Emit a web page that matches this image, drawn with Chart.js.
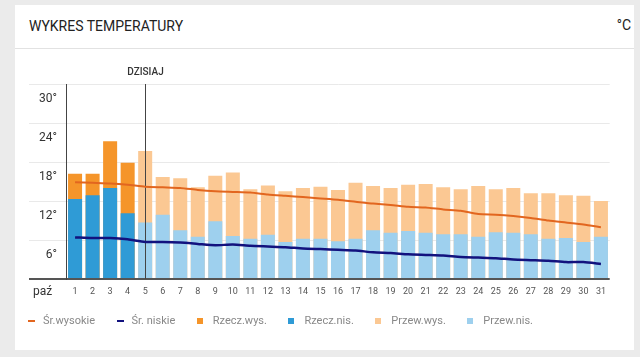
<!DOCTYPE html>
<html><head><meta charset="utf-8">
<script src="https://cdn.jsdelivr.net/npm/chart.js@4.4.1/dist/chart.umd.min.js"></script>
<style>
html,body{margin:0;padding:0;width:640px;height:357px;background:#ebebeb;overflow:hidden;font-family:Roboto,"Noto Sans",sans-serif;}
#card{position:absolute;left:15px;top:5px;width:619px;height:345px;background:#fff;}
#head{position:absolute;left:0;top:0;width:619px;height:43px;border-bottom:1px solid #e2e2e2;}
#title{position:absolute;left:14px;top:13px;font-size:14px;line-height:16px;color:#222;white-space:nowrap;}
#unit{position:absolute;right:3px;top:12px;font-size:14px;line-height:16px;color:#222;}
#chartbox{position:absolute;left:0;top:0;width:640px;height:357px;}
#paz{position:absolute;left:33px;top:283px;font-size:12px;line-height:16px;color:#333;}
#legend{position:absolute;left:28px;top:314px;height:14px;display:flex;align-items:center;font-size:11px;line-height:14px;color:#888;white-space:nowrap;}
#legend .item{display:flex;align-items:center;margin-right:21.5px;}
#legend .mline{display:inline-block;width:7px;height:2px;margin-right:8px;}
#legend .mbox{display:inline-block;width:6px;height:6px;margin-right:10px;}
</style>
</head>
<body>
<div id="card"><div id="head"><div id="title">WYKRES TEMPERATURY</div><div id="unit">°C</div></div></div>
<div id="chartbox"><canvas id="c" width="640" height="357"></canvas></div>
<div id="paz">paź</div>
<div id="legend"></div>
<script>
const days = ['1','2','3','4','5','6','7','8','9','10','11','12','13','14','15','16','17','18','19','20','21','22','23','24','25','26','27','28','29','30','31'];
const monthLabel = 'paź';
const todayIndex = 4;
const todayLabel = 'DZISIAJ';
const yTicksMax = 30;
const yTickStep = 6;

// Actual (days 1-4)
const actualHigh = [16.2, 16.2, 21.2, 17.9];
const actualLow  = [12.3, 12.9, 14.0, 10.1];
// Forecast (days 5-31)
const forecastHigh = [19.7, 15.7, 15.5, 14.1, 15.9, 16.4, 13.8, 14.4, 13.5, 14.0, 14.2, 13.7, 14.8, 14.3, 14.0, 14.5, 14.6, 14.1, 13.8, 14.3, 13.8, 14.0, 13.2, 13.2, 12.9, 12.8, 12.0];
const forecastLow  = [8.7, 9.9, 7.5, 6.5, 8.9, 6.6, 6.2, 6.8, 5.7, 6.2, 6.2, 5.8, 6.2, 7.5, 7.1, 7.4, 7.1, 6.9, 6.9, 6.5, 7.2, 7.1, 6.9, 6.2, 6.3, 5.7, 6.5];
// Averages
const avgHigh = [14.9, 14.8, 14.7, 14.5, 14.2, 14.1, 14.0, 13.7, 13.5, 13.4, 13.3, 13.0, 12.8, 12.6, 12.4, 12.2, 11.9, 11.6, 11.4, 11.1, 11.0, 10.7, 10.5, 10.0, 9.9, 9.7, 9.4, 9.0, 8.7, 8.4, 7.95];
const avgLow  = [6.4, 6.3, 6.3, 6.1, 5.7, 5.7, 5.6, 5.4, 5.2, 5.3, 5.1, 5.0, 4.9, 4.7, 4.6, 4.5, 4.4, 4.1, 4.0, 3.8, 3.7, 3.6, 3.4, 3.3, 3.2, 3.0, 2.9, 2.8, 2.6, 2.6, 2.3];

const seriesNames = ['Śr.wysokie', 'Śr. niskie', 'Rzecz.wys.', 'Rzecz.nis.', 'Przew.wys.', 'Przew.nis.'];

const padActual = arr => days.map((d, i) => i < arr.length ? arr[i] : null);
const padForecast = arr => days.map((d, i) => i >= days.length - arr.length ? arr[i - (days.length - arr.length)] : null);

document.getElementById('paz').textContent = monthLabel;

const todayPlugin = {
  id: 'today',
  beforeDatasetsDraw(chart) { chart.$todayDone = false; },
  beforeDatasetDraw(chart, args) {
    if (chart.$todayDone) return;
    if (args.meta.type !== 'line') return;
    drawToday(chart);
  },
  afterDatasetsDraw(chart) { if (!chart.$todayDone) drawToday(chart); }
};
function drawToday(chart) {
  chart.$todayDone = true;
  const ctx = chart.ctx, a = chart.chartArea;
  const x = Math.round(chart.scales.x.getPixelForValue(todayIndex)) + 0.5;
  ctx.save();
  ctx.strokeStyle = '#444';
  ctx.lineWidth = 1;
  ctx.beginPath();
  ctx.moveTo(x, a.top);
  ctx.lineTo(x, a.bottom);
  ctx.stroke();
  ctx.fillStyle = '#333';
  ctx.font = '500 10px Roboto';
  ctx.textAlign = 'center';
  ctx.textBaseline = 'middle';
  ctx.fillText(todayLabel, x, a.top - 12);
  ctx.restore();
}

const chart = new Chart(document.getElementById('c'), {
  data: {
    labels: days,
    datasets: [
      { type: 'line', label: seriesNames[0], data: avgHigh, borderColor: '#e2661f', backgroundColor: '#e2661f', borderWidth: 2, pointRadius: 0, tension: 0.2, order: 0 },
      { type: 'line', label: seriesNames[1], data: avgLow, borderColor: '#12127e', backgroundColor: '#12127e', borderWidth: 2.5, pointRadius: 0, tension: 0.2, order: 0 },
      { type: 'bar', label: seriesNames[2], data: padActual(actualHigh), backgroundColor: '#f5952a', order: 2 },
      { type: 'bar', label: seriesNames[3], data: padActual(actualLow), backgroundColor: '#2f9bd6', order: 1 },
      { type: 'bar', label: seriesNames[4], data: padForecast(forecastHigh), backgroundColor: '#fbc893', order: 2 },
      { type: 'bar', label: seriesNames[5], data: padForecast(forecastLow), backgroundColor: '#9ed0ee', order: 1 }
    ]
  },
  options: {
    responsive: false,
    animation: false,
    events: [],
    layout: { padding: { left: 29, top: 84, right: 30.3, bottom: 58 } },
    datasets: { bar: { barPercentage: 0.8, categoryPercentage: 1.0 } },
    plugins: { legend: { display: false }, tooltip: { enabled: false } },
    scales: {
      x: {
        stacked: true,
        offset: true,
        grid: { display: false, drawTicks: false },
        border: { display: false },
        ticks: { color: '#555', font: { family: 'Roboto', size: 9 }, padding: 7, maxRotation: 0, autoSkip: false },
        afterFit(s) { s.height = 20; }
      },
      y: {
        stacked: false,
        min: 0,
        max: yTicksMax,
        grid: {
          color: c => c.tick && c.tick.value === 0 ? '#555' : '#e9e9e9',
          lineWidth: c => c.tick && c.tick.value === 0 ? 2 : 1,
          drawTicks: true,
          tickLength: 37.3
        },
        border: { display: true, color: '#444', width: 1 },
        ticks: {
          stepSize: yTickStep,
          color: '#333',
          font: { family: 'Roboto', size: 12 },
          padding: -28,
          labelOffset: 15,
          callback: v => v === 0 ? '' : v + '°'
        },
        afterFit(s) { s.width = 37.3; }
      }
    }
  },
  plugins: [todayPlugin]
});

const legendEl = document.getElementById('legend');
chart.data.datasets.forEach(ds => {
  const item = document.createElement('span');
  item.className = 'item';
  const m = document.createElement('span');
  m.className = ds.type === 'line' ? 'mline' : 'mbox';
  m.style.background = ds.type === 'line' ? ds.borderColor : ds.backgroundColor;
  const t = document.createElement('span');
  t.textContent = ds.label;
  item.appendChild(m);
  item.appendChild(t);
  legendEl.appendChild(item);
});
</script>
</body></html>
